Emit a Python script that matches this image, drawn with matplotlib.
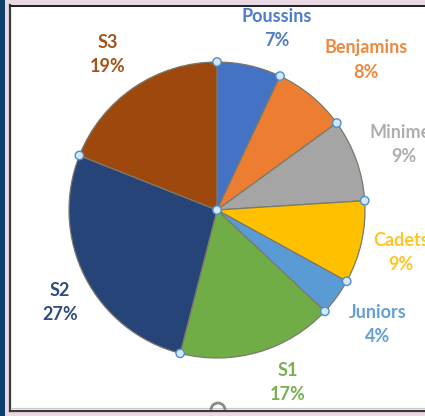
import matplotlib
matplotlib.use("Agg")
import matplotlib.pyplot as plt
from matplotlib.patches import Rectangle, Circle, Arc
import numpy as np

categories = ["Poussins", "Benjamins", "Minimes", "Cadets", "Juniors", "S1", "S2", "S3"]
values = [7, 8, 9, 9, 4, 17, 27, 19]
slice_colors = ["#4472C4", "#ED7D31", "#A5A5A5", "#FFC000", "#5B9BD5", "#70AD47", "#264478", "#9E480E"]
label_colors = ["#4F7BC8", "#EE8840", "#AEAEAE", "#FFC520", "#64A0D8", "#78B050", "#2F4C80", "#A5531C"]
# label centres in pixel coords (x, y from top) -- layout only
label_pos = [(277, 28), (366, 60), (404, 145), (401, 252), (378, 324), (288, 383), (60, 302), (108, 54)]

W, H = 425, 416
fig = plt.figure(figsize=(W / 100, H / 100), dpi=100)
fig.patch.set_facecolor("#EAD9E4")
ax = fig.add_axes([0, 0, 1, 1])
ax.set_axis_off()

def Y(y):
    return H - y

# frame pieces
ax.add_patch(Rectangle((0, 0), 5, H, facecolor="#0D3E6E", edgecolor="none", zorder=0))
ax.add_patch(Rectangle((10, Y(411)), W, 411 - 5, facecolor="white", edgecolor="none", zorder=0))
ax.plot([10.5, 10.5], [Y(5), Y(411)], color="#3A3A3A", lw=1.6, zorder=1)
ax.plot([10, W], [Y(5.5), Y(5.5)], color="#202020", lw=1.4, zorder=1)
ax.plot([10, W], [Y(410.5), Y(410.5)], color="#3A3A3A", lw=1.6, zorder=1)
ax.plot([12, W], [Y(408), Y(408)], color="#C8C8C8", lw=0.8, zorder=1)

cx, cy, r = 217, Y(210), 148
wedges, _ = ax.pie(values, colors=slice_colors, startangle=90, counterclock=False,
                   center=(cx, cy), radius=r,
                   wedgeprops=dict(edgecolor="#7A7A6A", linewidth=0.9))
ax.set_xlim(0, W)
ax.set_ylim(0, H)
ax.set_aspect("auto")

for name, v, col, (lx, ly) in zip(categories, values, label_colors, label_pos):
    ax.text(lx, Y(ly), f"{name}\n{v}%", ha="center", va="center", color=col,
            fontsize=13, fontweight="bold", family="Lato", linespacing=1.5, zorder=5)

# selection handles at slice boundaries
total = sum(values)
cum = np.cumsum([0] + values[:-1])
for c in cum:
    ang = np.deg2rad(90 - 360 * c / total)
    ax.add_patch(Circle((cx + r * np.cos(ang), cy + r * np.sin(ang)), 4.2,
                        facecolor="#D6E6F5", edgecolor="#4A90D0", lw=1.0, zorder=6))
ax.add_patch(Circle((cx, cy), 4.2, facecolor="#D6E6F5", edgecolor="#4A90D0", lw=1.0, zorder=6))

# chart-area handle at bottom
ax.add_patch(Arc((218, Y(410)), 14, 14, theta1=0, theta2=180, edgecolor="#8A8A8A", lw=2.0, zorder=6))

fig.savefig("out.png", dpi=100, facecolor=fig.get_facecolor())
